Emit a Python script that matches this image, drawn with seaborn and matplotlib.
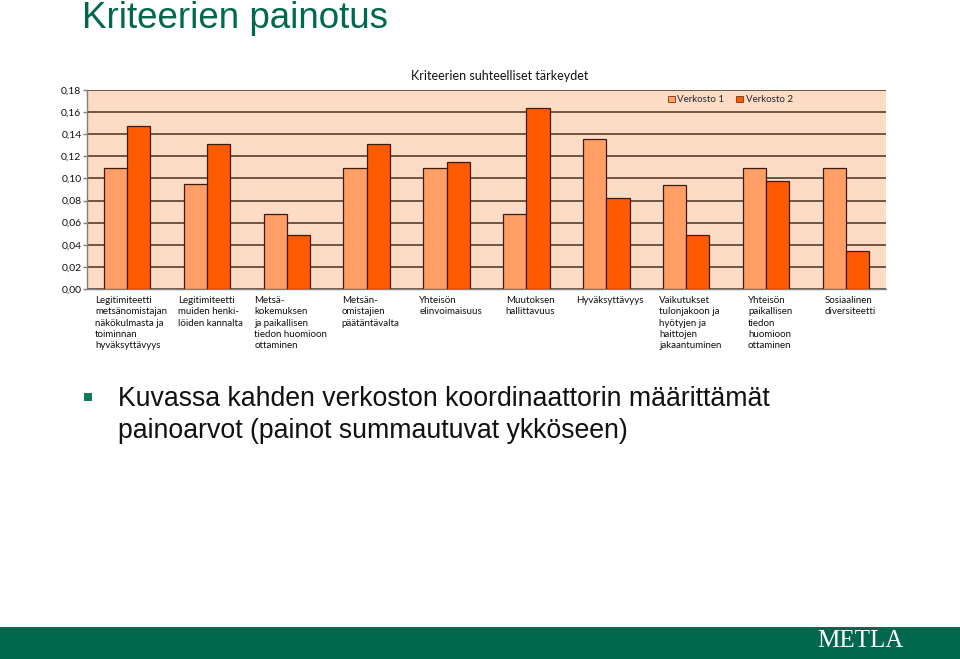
import matplotlib
matplotlib.use("Agg")
import matplotlib.pyplot as plt
import seaborn as sns
import pandas as pd
from matplotlib.ticker import FixedLocator, FuncFormatter
from matplotlib.patches import Rectangle

# ---------------- data ----------------
categories = [
    "Legitimiteetti\nmetsänomistajan\nnäkökulmasta ja\ntoiminnan\nhyväksyttävyys",
    "Legitimiteetti\nmuiden henki-\nlöiden kannalta",
    "Metsä-\nkokemuksen\nja paikallisen\ntiedon huomioon\nottaminen",
    "Metsän-\nomistajien\npäätäntävalta",
    "Yhteisön\nelinvoimaisuus",
    "Muutoksen\nhallittavuus",
    "Hyväksyttävyys",
    "Vaikutukset\ntulonjakoon ja\nhyötyjen ja\nhaittojen\njakaantuminen",
    "Yhteisön\npaikallisen\ntiedon\nhuomioon\nottaminen",
    "Sosiaalinen\ndiversiteetti",
]
verkosto1 = [0.109, 0.095, 0.068, 0.109, 0.109, 0.068, 0.136, 0.094, 0.109, 0.109]
verkosto2 = [0.147, 0.131, 0.049, 0.131, 0.115, 0.164, 0.082, 0.049, 0.098, 0.034]
series_names = ["Verkosto 1", "Verkosto 2"]
y_ticks = [0.00, 0.02, 0.04, 0.06, 0.08, 0.10, 0.12, 0.14, 0.16, 0.18]

slide_title = "Kriteerien painotus"
chart_title = "Kriteerien suhteelliset tärkeydet"
bullet_text = "Kuvassa kahden verkoston koordinaattorin määrittämät\npainoarvot (painot summautuvat ykköseen)"
logo_text = "METLA"

df = pd.DataFrame({
    "kategoria": categories * 2,
    "arvo": verkosto1 + verkosto2,
    "sarja": [series_names[0]] * len(categories) + [series_names[1]] * len(categories),
})

# ---------------- style ----------------
GREEN = "#00694d"
C1 = "#ff9e66"
C2 = "#ff5a00"
PLOT_BG = "#fddcc6"
EDGE = "#3a1c0c"
GRID = "#4a3020"

sns.set_theme(style="white")
plt.rcParams["font.family"] = ["Lato", "DejaVu Sans"]

fig = plt.figure(figsize=(9.6, 6.59), dpi=100)
fig.patch.set_facecolor("white")

ax = fig.add_axes([87 / 960, 1 - 289 / 659, (886 - 87) / 960, (289 - 90) / 659])
ax.set_facecolor(PLOT_BG)

sns.barplot(data=df, x="kategoria", y="arvo", hue="sarja", palette=[C1, C2],
            width=0.58, gap=0, saturation=1, edgecolor=EDGE, linewidth=0.9,
            ax=ax, zorder=3)

ax.set_ylim(0, 0.18)
ax.set_xlim(-0.5, len(categories) - 0.5)
ax.yaxis.set_major_locator(FixedLocator(y_ticks))
ax.yaxis.set_major_formatter(FuncFormatter(lambda v, p: f"{v:.2f}".replace(".", ",")))
ax.grid(axis="y", color=GRID, linewidth=1.1, zorder=1)
ax.grid(axis="x", visible=False)
ax.set_axisbelow(True)

for s in ["top", "right"]:
    ax.spines[s].set_visible(False)
for s in ["left", "bottom"]:
    ax.spines[s].set_color("#808080")
    ax.spines[s].set_linewidth(1.0)

ax.set_xlabel("")
ax.set_ylabel("")
# invisible major ticks carry the labels, nudged slightly right as in the reference
ax.set_xticks([i + 0.05 for i in range(len(categories))])
ax.set_xticklabels(categories, ha="center", multialignment="left",
                   fontsize=7, color="#111111", linespacing=1.34)
ax.tick_params(axis="x", which="major", length=0, pad=5)
ax.set_xticks([i - 0.5 for i in range(len(categories) + 1)], minor=True)
ax.tick_params(axis="x", which="minor", length=4, color="#808080", width=1, direction="out")
ax.tick_params(axis="y", which="major", length=3, color="#808080", width=1,
               direction="out", labelsize=7.5, labelcolor="#111111", pad=1, left=True)

leg = ax.legend(loc="center left", bbox_to_anchor=(0.722, 0.95), ncol=2, frameon=False,
                fontsize=7, handlelength=0.7, handleheight=0.7, handletextpad=0.3,
                columnspacing=1.2, borderaxespad=0)
for h in leg.legend_handles:
    h.set_edgecolor("#6a3a20")
    h.set_linewidth(0.6)

fig.text(500 / 960, 1 - 76 / 659, chart_title, ha="center", va="center",
         fontsize=9, color="#111111")

# ---------------- slide elements ----------------
fig.text(82 / 960, 1 - 19 / 659, slide_title, ha="left", va="center",
         fontsize=26.5, color=GREEN, family=["Liberation Sans", "DejaVu Sans"])

fig.patches.append(Rectangle((84 / 960, 1 - 401 / 659), 8 / 960, 8 / 659,
                             transform=fig.transFigure, facecolor="#0f7a5a",
                             edgecolor="none"))
fig.text(118 / 960, 1 - 415 / 659, bullet_text, ha="left", va="center",
         fontsize=19.2, color="#111111", linespacing=1.35,
         family=["Liberation Sans", "DejaVu Sans"])

fig.patches.append(Rectangle((0, 0), 1, (659 - 627) / 659, transform=fig.transFigure,
                             facecolor=GREEN, edgecolor="none"))
fig.text(860 / 960, 1 - 641 / 659, logo_text, ha="center", va="center",
         fontsize=18, color="white", family=["Liberation Serif", "DejaVu Serif"])

fig.savefig("out.png", dpi=100, facecolor="white")
